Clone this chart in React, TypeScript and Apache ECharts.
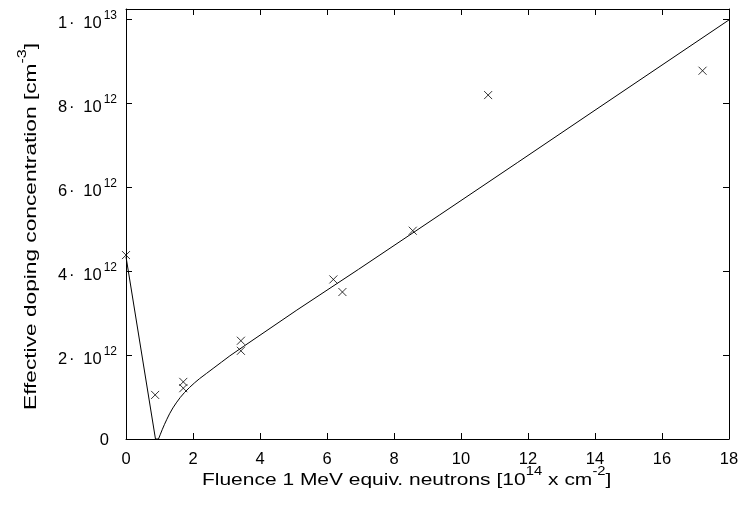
import React, { useEffect, useRef } from "react";
import * as echarts from "echarts";

// Fluence [1e14 cm^-2] and effective doping [1e12 cm^-3]
const pointX = [0, 0.87, 1.71, 1.71, 3.43, 3.43, 6.19, 6.46, 8.56, 10.81, 17.21];
const pointY = [4.38, 1.05, 1.36, 1.21, 2.34, 2.1, 3.8, 3.5, 4.96, 8.19, 8.77];

// fitted curve
const fitX = [0, 0.88, 0.97, 1.02, 1.08, 1.15, 1.22, 1.3, 1.4, 1.5, 1.62, 1.75, 1.9, 2.05, 2.2, 2.4, 2.6, 2.85, 3.1, 3.5, 5.1, 6.94, 9.37, 11.68, 14.0, 18.0];
const fitY = [4.34, 0, 0, 0.1, 0.22, 0.35, 0.47, 0.6, 0.74, 0.86, 0.99, 1.11, 1.23, 1.34, 1.44, 1.56, 1.68, 1.83, 1.98, 2.2, 3.07, 4.04, 5.34, 6.58, 7.83, 9.98];

const yTickValues = [0, 2, 4, 6, 8, 10];
const yTickMantissa = ["0", "2", "4", "6", "8", "1"];
const yTickExponent = ["", "12", "12", "12", "12", "13"];

const FONT = "'Liberation Sans', Arial, Helvetica, sans-serif";

export default function App() {
  const ref = useRef<HTMLDivElement>(null);
  useEffect(() => {
    if (!ref.current) return;
    const chart = echarts.init(ref.current, undefined, { renderer: "svg" });
    const axisLineStyle = { color: "#000", width: 1 };
    const yFormatter = (v: number) => {
      const i = yTickValues.findIndex((t) => Math.abs(t - v) < 1e-6);
      if (i < 0) return "";
      if (!yTickExponent[i]) return "{z|" + yTickMantissa[i] + "}";
      return "{m|" + yTickMantissa[i] + "}{d|·}{t|10}{s|" + yTickExponent[i] + "}";
    };
    const base = { fontFamily: FONT, color: "#000", verticalAlign: "middle" };
    const tickRich = {
      m: { ...base, fontSize: 16.5, lineHeight: 16, padding: [5, 1.8, 0, 0] },
      d: { ...base, fontSize: 16.5, lineHeight: 16, padding: [5, 8.8, 0, 0] },
      t: { ...base, fontSize: 16.5, lineHeight: 16, padding: [5, 2, 0, 0] },
      s: { ...base, fontSize: 12, lineHeight: 12, padding: [0, 0, 9, 0] },
      z: { ...base, fontSize: 16.5, lineHeight: 16, padding: [0, 8, 0, 0] },
    };
    const tBase = { fontFamily: FONT, fill: "#000", color: "#000", verticalAlign: "middle" };
    const titleRich = {
      m: { ...tBase, fontSize: 17, lineHeight: 17, padding: [5.5, 0, 0, 0] },
      s: { ...tBase, fontSize: 12, lineHeight: 12, padding: [0, 0, 10.5, 0] },
    };
    const axisCommon = {
      type: "value",
      axisLine: { show: true, onZero: false, lineStyle: axisLineStyle },
      axisTick: { show: true, inside: true, length: 6, lineStyle: axisLineStyle },
      splitLine: { show: false },
    };
    chart.setOption({
      animation: false,
      grid: { left: 126, right: 15, top: 9, bottom: 66, containLabel: false },
      xAxis: [
        {
          ...axisCommon, min: 0, max: 18, interval: 2, position: "bottom",
          axisLabel: { fontSize: 16.5, fontFamily: FONT, color: "#000", margin: 10 },
        },
        {
          ...axisCommon, min: 0, max: 18, interval: 2, position: "top",
          axisLabel: { show: false },
        },
      ],
      yAxis: [
        {
          ...axisCommon, min: 0, max: 10.24, interval: 2, position: "left",
          axisLabel: { margin: 9, formatter: yFormatter, rich: tickRich },
        },
        {
          ...axisCommon, min: 0, max: 10.24, interval: 2, position: "right",
          axisLabel: { show: false },
        },
      ],
      series: [
        {
          type: "line",
          xAxisIndex: 0, yAxisIndex: 0,
          data: fitX.map((x, i) => [x, fitY[i]]),
          symbol: "none",
          lineStyle: { color: "#000", width: 1 },
          silent: true,
        },
        {
          type: "scatter",
          xAxisIndex: 0, yAxisIndex: 0,
          data: pointX.map((x, i) => [x, pointY[i]]),
          symbol: "path://M0 0L10 10M10 0L0 10",
          symbolSize: 8,
          itemStyle: { color: "none", borderColor: "#000", borderWidth: 1 },
          silent: true,
        },
      ],
      graphic: [
        {
          type: "text",
          x: 202, y: 476, scaleX: 1.234,
          style: {
            text: "{m|Fluence 1 MeV equiv. neutrons [10}{s|14}{m| x cm}{s|-2}{m|]}",
            rich: titleRich,
            align: "left", verticalAlign: "middle",
          },
        },
        {
          type: "text",
          x: 27, y: 410, rotation: Math.PI / 2, scaleX: 1.335,
          style: {
            text: "{m|Effective doping concentration [cm}{s|-3}{m|]}",
            rich: titleRich,
            align: "left", verticalAlign: "middle",
          },
        },
      ],
    });
    return () => chart.dispose();
  }, []);
  return <div ref={ref} style={{ position: "fixed", left: 0, top: 0, width: 744, height: 505 }} />;
}
